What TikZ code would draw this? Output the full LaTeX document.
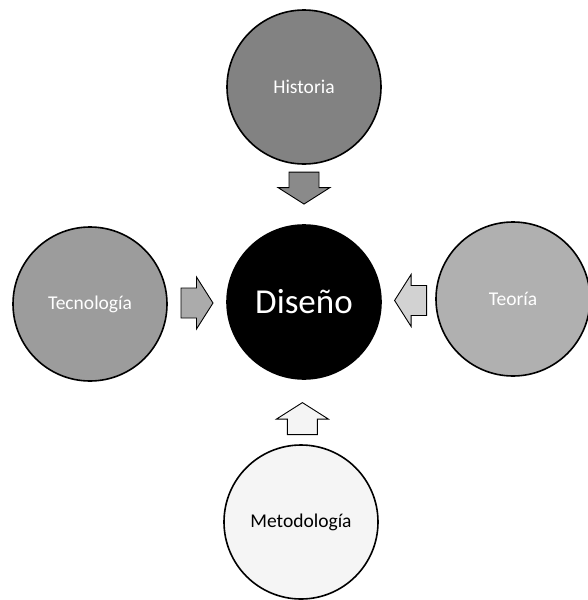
\documentclass[tikz,border=0pt]{standalone}
\usepackage{fontspec}
\setmainfont{Carlito}
\usetikzlibrary{calc}
\definecolor{histfill}{HTML}{828282}
\definecolor{tecfill}{HTML}{9C9C9C}
\definecolor{teofill}{HTML}{B0B0B0}
\definecolor{metfill}{HTML}{F5F5F5}
\definecolor{arrdown}{HTML}{8A8A8A}
\definecolor{arrright}{HTML}{ABABAB}
\definecolor{arrleft}{HTML}{D2D2D2}
\definecolor{arrup}{HTML}{F4F4F4}
\tikzset{
  topic/.style={circle, draw=black, line width=1.6pt, minimum size=154pt, inner sep=0pt, font=\fontsize{19.5}{22}\selectfont},
  centre/.style={circle, draw=black, fill=black, line width=1.6pt, minimum size=154pt, inner sep=0pt, text=white, font=\fontsize{35}{40}\selectfont},
  blockarrow/.style={draw=black, line width=0.9pt, line join=miter}
}
\newcommand{\myblockarrow}[3]{%
  \begin{scope}[shift={#1}, rotate=#2]
    \draw[blockarrow, fill=#3] (-16,-15) -- (-0.5,-15) -- (-0.5,-26) -- (16,0) -- (-0.5,26) -- (-0.5,15) -- (-16,15) -- cycle;
  \end{scope}}
\begin{document}
\begin{tikzpicture}[x=1pt, y=-1pt]
  \useasboundingbox (0,0) rectangle (588,600);
  \node[centre] (dis) at (304,302) {Diseño};
  \node[topic, fill=histfill, text=white] (hist) at (304,87) {Historia};
  \node[topic, fill=tecfill, text=white] (tec) at (90,304) {Tecnología};
  \node[topic, fill=teofill, text=white] (teo) at (513,299) {Teoría};
  \node[topic, fill=metfill, text=black] (met) at (301,522) {Metodología};
  \coordinate (adown) at ($(hist)!0.47!(dis)$);
  \coordinate (aright) at ($(tec)!0.5!(dis)$);
  \coordinate (aleft) at ($(teo)!0.49!(dis)$);
  \coordinate (aup) at ($(met)!0.47!(dis)$);
  \myblockarrow{(adown)}{-90}{arrdown}
  \myblockarrow{(aright)}{0}{arrright}
  \myblockarrow{(aleft)}{180}{arrleft}
  \myblockarrow{(aup)}{90}{arrup}
\end{tikzpicture}
\end{document}
